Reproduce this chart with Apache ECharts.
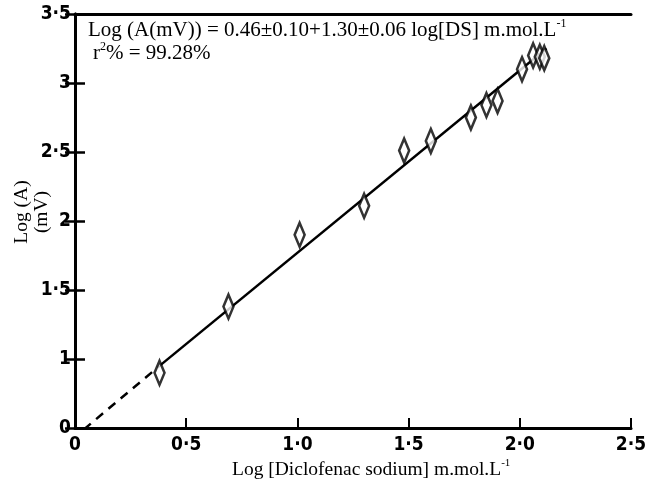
<!DOCTYPE html>
<html>
<head>
<meta charset="utf-8">
<script src="https://cdn.jsdelivr.net/npm/echarts@6/dist/echarts.min.js"></script>
<style>
  html, body { margin: 0; padding: 0; background: #fff; }
  #chart { width: 650px; height: 492px; }
</style>
</head>
<body>
<div id="chart"></div>
<script>
// measured points (log concentration vs log potential)
var logConc = [0.38, 0.69, 1.01, 1.30, 1.48, 1.60, 1.78, 1.85, 1.90, 2.01, 2.06, 2.09, 2.11];
var logMV   = [0.90, 1.38, 1.90, 2.11, 2.51, 2.58, 2.75, 2.84, 2.87, 3.10, 3.20, 3.19, 3.18];

// fitted line, solid part and dashed extrapolation
var fitX    = [0.38, 2.12];
var fitY    = [0.95, 3.25];
var extX    = [0.04, 0.38];
var extY    = [0.49, 0.95];

var xTickLabels = ['0', '0·5', '1·0', '1·5', '2·0', '2·5'];
var yTickLabels = ['0', '1', '1·5', '2', '2·5', '3', '3·5']; // bottom is a break, drawn at 0.5

var serif = "'Liberation Serif', 'Times New Roman', serif";
var tickFont = "'Liberation Sans Narrow', 'DejaVu Sans Condensed', sans-serif";

function pairs(xs, ys) {
  return xs.map(function (x, i) { return [x, ys[i]]; });
}

var chart = echarts.init(document.getElementById('chart'));

var axisLine = { show: true, lineStyle: { color: '#000', width: 3 } };
var tickLabel = { color: '#000', fontFamily: tickFont, fontWeight: 'bold', fontSize: 19 };

chart.setOption({
  animation: false,
  backgroundColor: '#fff',
  grid: { left: 75, right: 19, top: 14, bottom: 64 },
  xAxis: [{
    type: 'value', min: 0, max: 2.5, interval: 0.5, position: 'bottom',
    axisLine: axisLine,
    axisTick: { inside: true, length: 10, lineStyle: { color: '#000', width: 2 } },
    axisLabel: Object.assign({ margin: 8, formatter: function (v) {
      return xTickLabels[Math.round(v / 0.5)];
    } }, tickLabel),
    splitLine: { show: false }
  }, {
    type: 'value', min: 0, max: 2.5, position: 'top',
    axisLine: axisLine, axisTick: { show: false }, axisLabel: { show: false },
    splitLine: { show: false }
  }],
  yAxis: [{
    type: 'value', min: 0.5, max: 3.5, interval: 0.5, position: 'left',
    axisLine: axisLine,
    axisTick: { inside: true, length: 10, lineStyle: { color: '#000', width: 2.5 } },
    axisLabel: Object.assign({ margin: 4, formatter: function (v) {
      return yTickLabels[Math.round((v - 0.5) / 0.5)];
    } }, tickLabel),
    splitLine: { show: false }
  }, {
    type: 'value', min: 0.5, max: 3.5, interval: 0.5, position: 'right',
    axisLine: axisLine,
    axisTick: { inside: true, length: 10, lineStyle: { color: '#000', width: 2.5 } },
    axisLabel: { show: false },
    splitLine: { show: false }
  }],
  series: [{
    type: 'line', data: pairs(extX, extY), symbol: 'none',
    lineStyle: { color: '#000', width: 2.5, type: [9, 7] }
  }, {
    type: 'line', data: pairs(fitX, fitY), symbol: 'none',
    lineStyle: { color: '#000', width: 2.5 }
  }, {
    type: 'scatter', data: pairs(logConc, logMV), symbol: 'diamond',
    symbolSize: [10, 24], z: 5,
    itemStyle: { color: '#fff', borderColor: '#000', borderWidth: 3 }
  }],
  graphic: [{
    type: 'text', left: 88, top: 18,
    style: {
      text: '{a|Log (A(mV)) = 0.46±0.10+1.30±0.06 log[DS] m.mol.L}{s|-1}',
      rich: {
        a: { fontFamily: serif, fontSize: 21, color: '#000', lineHeight: 24 },
        s: { fontFamily: serif, fontSize: 12, color: '#000', verticalAlign: 'top', lineHeight: 24 }
      }
    }
  }, {
    type: 'text', left: 93, top: 41,
    style: {
      text: '{a|r}{s|2}{a|% = 99.28%}',
      rich: {
        a: { fontFamily: serif, fontSize: 21, color: '#000', lineHeight: 24 },
        s: { fontFamily: serif, fontSize: 12, color: '#000', verticalAlign: 'top', lineHeight: 24 }
      }
    }
  }, {
    type: 'text', left: 232, top: 458,
    style: {
      text: '{a|Log [Diclofenac sodium] m.mol.L}{s|-1}',
      rich: {
        a: { fontFamily: serif, fontSize: 19.5, color: '#000', lineHeight: 24 },
        s: { fontFamily: serif, fontSize: 11, color: '#000', verticalAlign: 'top', lineHeight: 24 }
      }
    }
  }, {
    type: 'text', x: 32, y: 212, rotation: Math.PI / 2,
    style: {
      text: 'Log (A)\n(mV)', align: 'center', verticalAlign: 'middle',
      fontFamily: serif, fontSize: 19.5, lineHeight: 20, fill: '#000'
    }
  }]
});
</script>
</body>
</html>
